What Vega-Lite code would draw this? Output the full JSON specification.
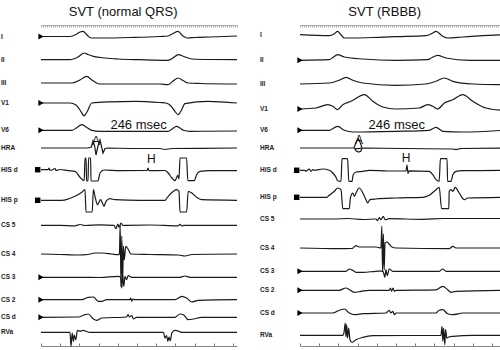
{
"$schema":"https://vega.github.io/schema/vega-lite/v6.json",
"background":"white",
"padding":{"left":1,"top":5,"right":0,"bottom":0},
"spacing":20,
"config":{
 "view":{"stroke":null},
 "title":{"fontSize":13,"font":"Liberation Sans","fontWeight":"normal","color":"#111","anchor":"middle","frame":"bounds","offset":6},
 "line":{"color":"#1a1a1a","strokeWidth":1.2,"interpolate":"monotone"},
 "text":{"align":"left","baseline":"middle","dx":-40,"fontSize":6.5,"fontWeight":"bold","font":"Liberation Sans Narrow, Liberation Sans","color":"#222"},
 "point":{"filled":true,"color":"#000","opacity":1,"size":36,"xOffset":-2.5,"shape":"triangle-right"},
 "axis":{"grid":false,"labels":false,"minExtent":0}
},
"datasets":{
"L":[
{"ch":"I","t":0,"v":0},{"ch":"I","t":72.5,"v":0},{"ch":"I","t":87.5,"v":2},{"ch":"I","t":97.5,"v":4.5},{"ch":"I","t":105,"v":5.2},{"ch":"I","t":115,"v":1.5},{"ch":"I","t":125,"v":-1.5},{"ch":"I","t":147.5,"v":-1.5},{"ch":"I","t":222.5,"v":-1},{"ch":"I","t":297.5,"v":0},{"ch":"I","t":317.5,"v":0.5},{"ch":"I","t":330,"v":3},{"ch":"I","t":342.5,"v":5.2},{"ch":"I","t":355,"v":0.5},{"ch":"I","t":365,"v":-1.5},{"ch":"I","t":385,"v":-1},{"ch":"I","t":422.5,"v":-0.5},{"ch":"I","t":490,"v":0.5},
{"ch":"II","t":0,"v":0},{"ch":"II","t":72.5,"v":0},{"ch":"II","t":92.5,"v":2.7},{"ch":"II","t":108,"v":6.7},{"ch":"II","t":117.5,"v":5.2},{"ch":"II","t":131,"v":3.4},{"ch":"II","t":160,"v":1.7},{"ch":"II","t":192.5,"v":0.7},{"ch":"II","t":247.5,"v":0},{"ch":"II","t":318,"v":-0.6},{"ch":"II","t":330,"v":1.7},{"ch":"II","t":343,"v":5},{"ch":"II","t":357.5,"v":3.2},{"ch":"II","t":377,"v":0.7},{"ch":"II","t":422.5,"v":0.2},{"ch":"II","t":490,"v":0},
{"ch":"III","t":0,"v":0},{"ch":"III","t":77.5,"v":0},{"ch":"III","t":97.5,"v":3},{"ch":"III","t":114,"v":6.7},{"ch":"III","t":127.5,"v":3},{"ch":"III","t":139,"v":0},{"ch":"III","t":147.5,"v":-1},{"ch":"III","t":222.5,"v":-1},{"ch":"III","t":297.5,"v":-1},{"ch":"III","t":317.5,"v":-1.7},{"ch":"III","t":330,"v":2},{"ch":"III","t":343,"v":5},{"ch":"III","t":355,"v":2.5},{"ch":"III","t":367.5,"v":0},{"ch":"III","t":397.5,"v":-0.5},{"ch":"III","t":490,"v":-1},
{"ch":"V1","t":0,"v":0},{"ch":"V1","t":72.5,"v":0},{"ch":"V1","t":87.5,"v":-2},{"ch":"V1","t":97.5,"v":-7},{"ch":"V1","t":108,"v":-12.7},{"ch":"V1","t":115,"v":-9},{"ch":"V1","t":127,"v":0},{"ch":"V1","t":172.5,"v":1.2},{"ch":"V1","t":235,"v":1.7},{"ch":"V1","t":297.5,"v":0.5},{"ch":"V1","t":312.5,"v":0},{"ch":"V1","t":325,"v":-3},{"ch":"V1","t":332.5,"v":-7},{"ch":"V1","t":343,"v":-11.7},{"ch":"V1","t":350,"v":-8},{"ch":"V1","t":360,"v":-0.7},{"ch":"V1","t":417.5,"v":1.7},{"ch":"V1","t":490,"v":0},
{"ch":"V6","t":0,"v":0},{"ch":"V6","t":77.5,"v":0},{"ch":"V6","t":90,"v":2.8},{"ch":"V6","t":102,"v":5.6},{"ch":"V6","t":112.5,"v":3.3},{"ch":"V6","t":127,"v":0},{"ch":"V6","t":147.5,"v":-1},{"ch":"V6","t":318,"v":-1},{"ch":"V6","t":327.5,"v":1.3},{"ch":"V6","t":339,"v":4},{"ch":"V6","t":347.5,"v":2.3},{"ch":"V6","t":356,"v":0},{"ch":"V6","t":372.5,"v":-1},{"ch":"V6","t":490,"v":-0.7},
{"ch":"HRA","t":0,"v":0},{"ch":"HRA","t":72.5,"v":0},{"ch":"HRA","t":117.5,"v":0},{"ch":"HRA","t":126,"v":1},{"ch":"HRA","t":130,"v":7},{"ch":"HRA","t":134,"v":2},{"ch":"HRA","t":137.5,"v":-7},{"ch":"HRA","t":142.5,"v":2},{"ch":"HRA","t":147.5,"v":8},{"ch":"HRA","t":151,"v":2},{"ch":"HRA","t":155,"v":-5},{"ch":"HRA","t":160,"v":-0.5},{"ch":"HRA","t":167.5,"v":0},{"ch":"HRA","t":222.5,"v":-0.5},{"ch":"HRA","t":297.5,"v":-0.5},{"ch":"HRA","t":310,"v":-1.5},{"ch":"HRA","t":327.5,"v":-0.5},{"ch":"HRA","t":397.5,"v":-0.3},{"ch":"HRA","t":490,"v":0},
{"ch":"HIS d","t":0,"v":0},{"ch":"HIS d","t":17.5,"v":0},{"ch":"HIS d","t":20,"v":1.7},{"ch":"HIS d","t":22.5,"v":-0.8},{"ch":"HIS d","t":30,"v":0.2},{"ch":"HIS d","t":35,"v":1.2},{"ch":"HIS d","t":37.5,"v":-0.8},{"ch":"HIS d","t":47.5,"v":0.2},{"ch":"HIS d","t":68,"v":-1},{"ch":"HIS d","t":85,"v":-1.6},{"ch":"HIS d","t":97.5,"v":-7.6},{"ch":"HIS d","t":108,"v":-11},{"ch":"HIS d","t":110,"v":11.7},{"ch":"HIS d","t":112.5,"v":11.7},{"ch":"HIS d","t":114,"v":-11.3},{"ch":"HIS d","t":117.5,"v":-11.3},{"ch":"HIS d","t":119,"v":11.7},{"ch":"HIS d","t":124,"v":11.7},{"ch":"HIS d","t":125,"v":-11.3},{"ch":"HIS d","t":142.5,"v":-11.3},{"ch":"HIS d","t":147.5,"v":-3.3},{"ch":"HIS d","t":157.5,"v":-0.3},{"ch":"HIS d","t":197.5,"v":-1},{"ch":"HIS d","t":265,"v":-0.8},{"ch":"HIS d","t":267.5,"v":1.7},{"ch":"HIS d","t":270,"v":-1},{"ch":"HIS d","t":310,"v":-0.8},{"ch":"HIS d","t":318,"v":-3.3},{"ch":"HIS d","t":327,"v":-8.3},{"ch":"HIS d","t":335,"v":-11},{"ch":"HIS d","t":342,"v":-5.6},{"ch":"HIS d","t":345,"v":-9.3},{"ch":"HIS d","t":347.5,"v":11.7},{"ch":"HIS d","t":364,"v":11.7},{"ch":"HIS d","t":367,"v":-11},{"ch":"HIS d","t":383,"v":-11},{"ch":"HIS d","t":389,"v":-5},{"ch":"HIS d","t":397.5,"v":-1.6},{"ch":"HIS d","t":422.5,"v":-1},{"ch":"HIS d","t":490,"v":-1},
{"ch":"HIS p","t":0,"v":0},{"ch":"HIS p","t":52,"v":0},{"ch":"HIS p","t":68,"v":1.3},{"ch":"HIS p","t":85,"v":4},{"ch":"HIS p","t":102,"v":8},{"ch":"HIS p","t":110,"v":10.6},{"ch":"HIS p","t":112.5,"v":-11.7},{"ch":"HIS p","t":128,"v":-11.7},{"ch":"HIS p","t":131,"v":10.6},{"ch":"HIS p","t":135,"v":4},{"ch":"HIS p","t":141,"v":-4.4},{"ch":"HIS p","t":149,"v":0.6},{"ch":"HIS p","t":153.5,"v":-2.7},{"ch":"HIS p","t":157.5,"v":-6},{"ch":"HIS p","t":162.5,"v":-1},{"ch":"HIS p","t":172.5,"v":1.6},{"ch":"HIS p","t":185,"v":0.6},{"ch":"HIS p","t":247.5,"v":0},{"ch":"HIS p","t":310,"v":0},{"ch":"HIS p","t":318,"v":4},{"ch":"HIS p","t":331,"v":9},{"ch":"HIS p","t":339,"v":10.6},{"ch":"HIS p","t":345,"v":9},{"ch":"HIS p","t":347.5,"v":-11.7},{"ch":"HIS p","t":364,"v":-11.7},{"ch":"HIS p","t":368,"v":9},{"ch":"HIS p","t":377,"v":7.3},{"ch":"HIS p","t":389,"v":3},{"ch":"HIS p","t":402,"v":0.6},{"ch":"HIS p","t":490,"v":0},
{"ch":"CS 5","t":0,"v":0},{"ch":"CS 5","t":47.5,"v":0},{"ch":"CS 5","t":85,"v":-0.5},{"ch":"CS 5","t":97.5,"v":0.8},{"ch":"CS 5","t":110,"v":-0.2},{"ch":"CS 5","t":147.5,"v":0.5},{"ch":"CS 5","t":182.5,"v":0},{"ch":"CS 5","t":187.5,"v":-3.4},{"ch":"CS 5","t":192,"v":1.3},{"ch":"CS 5","t":195,"v":-2},{"ch":"CS 5","t":200,"v":2.3},{"ch":"CS 5","t":205,"v":-0.2},{"ch":"CS 5","t":214,"v":0},{"ch":"CS 5","t":272.5,"v":0.3},{"ch":"CS 5","t":342.5,"v":-0.5},{"ch":"CS 5","t":347.5,"v":1},{"ch":"CS 5","t":352.5,"v":-0.7},{"ch":"CS 5","t":357.5,"v":0},{"ch":"CS 5","t":490,"v":0},
{"ch":"CS 4","t":0,"v":0},{"ch":"CS 4","t":47.5,"v":-0.5},{"ch":"CS 4","t":93,"v":-1},{"ch":"CS 4","t":117.5,"v":-0.5},{"ch":"CS 4","t":135,"v":1},{"ch":"CS 4","t":152,"v":1},{"ch":"CS 4","t":177,"v":0},{"ch":"CS 4","t":193,"v":-0.7},{"ch":"CS 4","t":196,"v":0},{"ch":"CS 4","t":198,"v":29},{"ch":"CS 4","t":200,"v":-33},{"ch":"CS 4","t":202,"v":18},{"ch":"CS 4","t":204,"v":-28},{"ch":"CS 4","t":206,"v":8},{"ch":"CS 4","t":208,"v":-6},{"ch":"CS 4","t":212,"v":7.7},{"ch":"CS 4","t":217.5,"v":5},{"ch":"CS 4","t":225,"v":0},{"ch":"CS 4","t":272.5,"v":-0.5},{"ch":"CS 4","t":342.5,"v":-1},{"ch":"CS 4","t":360,"v":-2},{"ch":"CS 4","t":377.5,"v":-0.5},{"ch":"CS 4","t":490,"v":0},
{"ch":"CS 3","t":0,"v":0},{"ch":"CS 3","t":97.5,"v":0},{"ch":"CS 3","t":147.5,"v":-0.2},{"ch":"CS 3","t":193,"v":1},{"ch":"CS 3","t":199,"v":0.3},{"ch":"CS 3","t":202,"v":-10.7},{"ch":"CS 3","t":204,"v":2.3},{"ch":"CS 3","t":207,"v":-9},{"ch":"CS 3","t":210,"v":1},{"ch":"CS 3","t":214,"v":-2.4},{"ch":"CS 3","t":218,"v":1.6},{"ch":"CS 3","t":227,"v":0},{"ch":"CS 3","t":347.5,"v":0},{"ch":"CS 3","t":360,"v":1.3},{"ch":"CS 3","t":372.5,"v":0},{"ch":"CS 3","t":490,"v":0},
{"ch":"CS 2","t":0,"v":0},{"ch":"CS 2","t":102,"v":0},{"ch":"CS 2","t":118,"v":2.4},{"ch":"CS 2","t":131,"v":2.7},{"ch":"CS 2","t":143,"v":-1.6},{"ch":"CS 2","t":152,"v":-1.6},{"ch":"CS 2","t":164,"v":0},{"ch":"CS 2","t":222.5,"v":0},{"ch":"CS 2","t":224,"v":1.7},{"ch":"CS 2","t":227,"v":-1.6},{"ch":"CS 2","t":229,"v":0.7},{"ch":"CS 2","t":232.5,"v":0},{"ch":"CS 2","t":335,"v":0},{"ch":"CS 2","t":352,"v":3.4},{"ch":"CS 2","t":364,"v":1.7},{"ch":"CS 2","t":377,"v":-2.3},{"ch":"CS 2","t":393,"v":-0.6},{"ch":"CS 2","t":490,"v":0},
{"ch":"CS d","t":0,"v":0},{"ch":"CS d","t":93,"v":0.3},{"ch":"CS d","t":110,"v":2.6},{"ch":"CS d","t":118,"v":3.3},{"ch":"CS d","t":131,"v":-1.7},{"ch":"CS d","t":139,"v":-3},{"ch":"CS d","t":152,"v":-0.7},{"ch":"CS d","t":214,"v":0.3},{"ch":"CS d","t":218,"v":2.6},{"ch":"CS d","t":221,"v":0.3},{"ch":"CS d","t":227,"v":1.6},{"ch":"CS d","t":231,"v":-1.7},{"ch":"CS d","t":239,"v":0},{"ch":"CS d","t":335,"v":0},{"ch":"CS d","t":347.5,"v":3.3},{"ch":"CS d","t":356,"v":2.6},{"ch":"CS d","t":368,"v":-2.4},{"ch":"CS d","t":381,"v":-1.7},{"ch":"CS d","t":402,"v":0},{"ch":"CS d","t":490,"v":0},
{"ch":"RVa","t":0,"v":0},{"ch":"RVa","t":68,"v":0},{"ch":"RVa","t":72.5,"v":0},{"ch":"RVa","t":75,"v":-14},{"ch":"RVa","t":78,"v":-0.7},{"ch":"RVa","t":81,"v":-9},{"ch":"RVa","t":83,"v":-2.7},{"ch":"RVa","t":87,"v":-7.4},{"ch":"RVa","t":91,"v":2},{"ch":"RVa","t":97.5,"v":1},{"ch":"RVa","t":106,"v":2},{"ch":"RVa","t":114,"v":0.8},{"ch":"RVa","t":122.5,"v":0},{"ch":"RVa","t":306,"v":0},{"ch":"RVa","t":310,"v":-5.7},{"ch":"RVa","t":314,"v":-3.2},{"ch":"RVa","t":317,"v":-9},{"ch":"RVa","t":320,"v":-4.7},{"ch":"RVa","t":323,"v":-8.4},{"ch":"RVa","t":327,"v":-0.7},{"ch":"RVa","t":335,"v":2},{"ch":"RVa","t":343,"v":1.3},{"ch":"RVa","t":352,"v":0},{"ch":"RVa","t":490,"v":0}
],
"R":[
{"ch":"I","t":0,"v":0},{"ch":"I","t":73,"v":-1},{"ch":"I","t":86,"v":1},{"ch":"I","t":94,"v":3.4},{"ch":"I","t":102.5,"v":0},{"ch":"I","t":111,"v":-3.3},{"ch":"I","t":132,"v":-3.3},{"ch":"I","t":198,"v":-2.6},{"ch":"I","t":240,"v":-2},{"ch":"I","t":315,"v":-1},{"ch":"I","t":332,"v":1.7},{"ch":"I","t":340,"v":3.4},{"ch":"I","t":357,"v":-1.6},{"ch":"I","t":369,"v":-3.3},{"ch":"I","t":407,"v":-2.3},{"ch":"I","t":457,"v":-1},{"ch":"I","t":507.5,"v":0},
{"ch":"II","t":0,"v":0},{"ch":"II","t":73,"v":0.6},{"ch":"II","t":82.5,"v":2.8},{"ch":"II","t":94,"v":5.6},{"ch":"II","t":111,"v":3.3},{"ch":"II","t":157,"v":1.3},{"ch":"II","t":240,"v":0},{"ch":"II","t":319,"v":0.6},{"ch":"II","t":330,"v":2.8},{"ch":"II","t":344,"v":5},{"ch":"II","t":365,"v":2.3},{"ch":"II","t":423,"v":0},{"ch":"II","t":507.5,"v":0},
{"ch":"III","t":0,"v":0},{"ch":"III","t":73,"v":1},{"ch":"III","t":98,"v":3.7},{"ch":"III","t":115,"v":6.7},{"ch":"III","t":132,"v":3.7},{"ch":"III","t":157,"v":1},{"ch":"III","t":240,"v":-1.3},{"ch":"III","t":315,"v":0},{"ch":"III","t":340,"v":2.7},{"ch":"III","t":361,"v":6},{"ch":"III","t":382,"v":2.7},{"ch":"III","t":432,"v":0},{"ch":"III","t":507.5,"v":-0.7},
{"ch":"V1","t":0,"v":0},{"ch":"V1","t":40,"v":1},{"ch":"V1","t":69,"v":4.3},{"ch":"V1","t":82,"v":2.7},{"ch":"V1","t":94,"v":-0.7},{"ch":"V1","t":107,"v":4.3},{"ch":"V1","t":127.5,"v":7.7},{"ch":"V1","t":161,"v":14.3},{"ch":"V1","t":182,"v":7.7},{"ch":"V1","t":207,"v":2},{"ch":"V1","t":240,"v":0},{"ch":"V1","t":298,"v":1},{"ch":"V1","t":319,"v":4.3},{"ch":"V1","t":332,"v":2.7},{"ch":"V1","t":344,"v":0},{"ch":"V1","t":361,"v":6},{"ch":"V1","t":382,"v":9.3},{"ch":"V1","t":407,"v":14.3},{"ch":"V1","t":432,"v":7.7},{"ch":"V1","t":465,"v":1},{"ch":"V1","t":507.5,"v":-1.3},
{"ch":"V6","t":0,"v":0},{"ch":"V6","t":73,"v":0},{"ch":"V6","t":94,"v":4},{"ch":"V6","t":111,"v":0},{"ch":"V6","t":132,"v":-1.7},{"ch":"V6","t":240,"v":-1},{"ch":"V6","t":323,"v":0},{"ch":"V6","t":340,"v":3},{"ch":"V6","t":357,"v":-1},{"ch":"V6","t":407,"v":-1.7},{"ch":"V6","t":507.5,"v":0},
{"ch":"HRA","t":0,"v":0},{"ch":"HRA","t":107.5,"v":0},{"ch":"HRA","t":135,"v":0},{"ch":"HRA","t":140,"v":5.5},{"ch":"HRA","t":146,"v":9.3},{"ch":"HRA","t":151,"v":5},{"ch":"HRA","t":155,"v":0},{"ch":"HRA","t":152,"v":-3.3},{"ch":"HRA","t":146,"v":-4},{"ch":"HRA","t":140,"v":-2.7},{"ch":"HRA","t":137,"v":-0.8},{"ch":"HRA","t":162.5,"v":0},{"ch":"HRA","t":257.5,"v":-0.5},{"ch":"HRA","t":382.5,"v":-1},{"ch":"HRA","t":390,"v":-1.7},{"ch":"HRA","t":402.5,"v":-0.5},{"ch":"HRA","t":507.5,"v":0},
{"ch":"HIS d","t":0,"v":0},{"ch":"HIS d","t":12.5,"v":0},{"ch":"HIS d","t":15,"v":-1},{"ch":"HIS d","t":23,"v":1.3},{"ch":"HIS d","t":27.5,"v":-1},{"ch":"HIS d","t":32,"v":0.6},{"ch":"HIS d","t":36,"v":0},{"ch":"HIS d","t":57,"v":1.3},{"ch":"HIS d","t":73,"v":0},{"ch":"HIS d","t":82,"v":-2.7},{"ch":"HIS d","t":90,"v":-7},{"ch":"HIS d","t":94,"v":-10.4},{"ch":"HIS d","t":102.5,"v":-11},{"ch":"HIS d","t":105,"v":11.6},{"ch":"HIS d","t":119,"v":11.6},{"ch":"HIS d","t":122,"v":-11},{"ch":"HIS d","t":130,"v":-11},{"ch":"HIS d","t":133,"v":-4.4},{"ch":"HIS d","t":140,"v":-1.7},{"ch":"HIS d","t":157,"v":-1},{"ch":"HIS d","t":173,"v":0},{"ch":"HIS d","t":220,"v":-0.7},{"ch":"HIS d","t":265,"v":-0.5},{"ch":"HIS d","t":267.5,"v":5.3},{"ch":"HIS d","t":270,"v":-3.2},{"ch":"HIS d","t":272.5,"v":-0.5},{"ch":"HIS d","t":323,"v":-1},{"ch":"HIS d","t":332,"v":-4.4},{"ch":"HIS d","t":340,"v":-9.4},{"ch":"HIS d","t":348,"v":-11},{"ch":"HIS d","t":351,"v":11.6},{"ch":"HIS d","t":367.5,"v":11.6},{"ch":"HIS d","t":369,"v":-11},{"ch":"HIS d","t":377.5,"v":-11},{"ch":"HIS d","t":382,"v":-4.4},{"ch":"HIS d","t":390,"v":-1},{"ch":"HIS d","t":407,"v":-0.4},{"ch":"HIS d","t":507.5,"v":0},
{"ch":"HIS p","t":0,"v":0},{"ch":"HIS p","t":67,"v":0},{"ch":"HIS p","t":73,"v":2},{"ch":"HIS p","t":86,"v":6},{"ch":"HIS p","t":94,"v":9.3},{"ch":"HIS p","t":102.5,"v":7.6},{"ch":"HIS p","t":107,"v":-11.4},{"ch":"HIS p","t":123,"v":-11.4},{"ch":"HIS p","t":126,"v":-0.7},{"ch":"HIS p","t":132,"v":4.3},{"ch":"HIS p","t":136,"v":1},{"ch":"HIS p","t":140,"v":4.3},{"ch":"HIS p","t":148,"v":9.3},{"ch":"HIS p","t":157,"v":4.3},{"ch":"HIS p","t":165,"v":-2.4},{"ch":"HIS p","t":169,"v":-5.7},{"ch":"HIS p","t":175,"v":-2.4},{"ch":"HIS p","t":190,"v":-1.7},{"ch":"HIS p","t":240,"v":-0.7},{"ch":"HIS p","t":307,"v":0},{"ch":"HIS p","t":323,"v":2},{"ch":"HIS p","t":340,"v":7.6},{"ch":"HIS p","t":348,"v":10},{"ch":"HIS p","t":354,"v":-11.4},{"ch":"HIS p","t":372,"v":-11.4},{"ch":"HIS p","t":373,"v":6},{"ch":"HIS p","t":377.5,"v":7.6},{"ch":"HIS p","t":382.5,"v":6},{"ch":"HIS p","t":388,"v":10},{"ch":"HIS p","t":398,"v":4.3},{"ch":"HIS p","t":411,"v":-2.4},{"ch":"HIS p","t":419,"v":-0.7},{"ch":"HIS p","t":507.5,"v":0},
{"ch":"CS 5","t":0,"v":0},{"ch":"CS 5","t":82.5,"v":0},{"ch":"CS 5","t":120,"v":0.5},{"ch":"CS 5","t":157.5,"v":-0.5},{"ch":"CS 5","t":190,"v":0},{"ch":"CS 5","t":194,"v":-1.7},{"ch":"CS 5","t":198,"v":1.5},{"ch":"CS 5","t":202.5,"v":-0.7},{"ch":"CS 5","t":208,"v":2.7},{"ch":"CS 5","t":213,"v":-0.7},{"ch":"CS 5","t":223,"v":0.3},{"ch":"CS 5","t":307.5,"v":-0.3},{"ch":"CS 5","t":357.5,"v":0.5},{"ch":"CS 5","t":507.5,"v":0.5},
{"ch":"CS 4","t":0,"v":0},{"ch":"CS 4","t":98,"v":-0.7},{"ch":"CS 4","t":130,"v":-0.5},{"ch":"CS 4","t":140,"v":2.3},{"ch":"CS 4","t":148,"v":1},{"ch":"CS 4","t":190,"v":1},{"ch":"CS 4","t":202.5,"v":0},{"ch":"CS 4","t":204.5,"v":22},{"ch":"CS 4","t":206.5,"v":-24},{"ch":"CS 4","t":208.5,"v":14},{"ch":"CS 4","t":210.5,"v":-22},{"ch":"CS 4","t":212.5,"v":5},{"ch":"CS 4","t":217.5,"v":6},{"ch":"CS 4","t":222.5,"v":4},{"ch":"CS 4","t":230,"v":1},{"ch":"CS 4","t":240,"v":0},{"ch":"CS 4","t":373,"v":-0.7},{"ch":"CS 4","t":382,"v":1.7},{"ch":"CS 4","t":390,"v":0},{"ch":"CS 4","t":507.5,"v":0},
{"ch":"CS 3","t":0,"v":0},{"ch":"CS 3","t":115,"v":0},{"ch":"CS 3","t":123,"v":2.3},{"ch":"CS 3","t":132.5,"v":0.8},{"ch":"CS 3","t":140,"v":-1},{"ch":"CS 3","t":157.5,"v":-1},{"ch":"CS 3","t":190,"v":0},{"ch":"CS 3","t":207.5,"v":0.3},{"ch":"CS 3","t":212,"v":-6},{"ch":"CS 3","t":215,"v":1.6},{"ch":"CS 3","t":218,"v":-4.4},{"ch":"CS 3","t":223,"v":2.3},{"ch":"CS 3","t":232,"v":0},{"ch":"CS 3","t":348,"v":0},{"ch":"CS 3","t":357,"v":2.3},{"ch":"CS 3","t":365,"v":0},{"ch":"CS 3","t":507.5,"v":0},
{"ch":"CS 2","t":0,"v":0},{"ch":"CS 2","t":98,"v":0},{"ch":"CS 2","t":115,"v":2.3},{"ch":"CS 2","t":123,"v":0.8},{"ch":"CS 2","t":136,"v":-2},{"ch":"CS 2","t":152.5,"v":-1},{"ch":"CS 2","t":173,"v":0},{"ch":"CS 2","t":223,"v":0},{"ch":"CS 2","t":226,"v":2.3},{"ch":"CS 2","t":229,"v":-1},{"ch":"CS 2","t":232.5,"v":2.3},{"ch":"CS 2","t":236,"v":-1},{"ch":"CS 2","t":240,"v":0},{"ch":"CS 2","t":340,"v":0.5},{"ch":"CS 2","t":357,"v":4},{"ch":"CS 2","t":369,"v":0.6},{"ch":"CS 2","t":377.5,"v":-2},{"ch":"CS 2","t":390,"v":-1},{"ch":"CS 2","t":507.5,"v":0},
{"ch":"CS d","t":0,"v":0},{"ch":"CS d","t":82,"v":0},{"ch":"CS d","t":98,"v":2.7},{"ch":"CS d","t":111,"v":4},{"ch":"CS d","t":123,"v":0},{"ch":"CS d","t":136,"v":-1.7},{"ch":"CS d","t":157.5,"v":-0.7},{"ch":"CS d","t":215,"v":0},{"ch":"CS d","t":223,"v":2.7},{"ch":"CS d","t":227.5,"v":0},{"ch":"CS d","t":232,"v":1.7},{"ch":"CS d","t":236,"v":-1.7},{"ch":"CS d","t":240,"v":0},{"ch":"CS d","t":340,"v":0},{"ch":"CS d","t":348,"v":2.7},{"ch":"CS d","t":357,"v":3.3},{"ch":"CS d","t":369,"v":-0.7},{"ch":"CS d","t":382,"v":-1.7},{"ch":"CS d","t":407.5,"v":0},{"ch":"CS d","t":507.5,"v":0},
{"ch":"RVa","t":0,"v":0},{"ch":"RVa","t":107,"v":0},{"ch":"RVa","t":110.5,"v":4},{"ch":"RVa","t":113,"v":12.3},{"ch":"RVa","t":115,"v":-1.7},{"ch":"RVa","t":116.5,"v":10.6},{"ch":"RVa","t":119,"v":-2.7},{"ch":"RVa","t":121.5,"v":7.3},{"ch":"RVa","t":125,"v":-4.4},{"ch":"RVa","t":130,"v":-7},{"ch":"RVa","t":140,"v":-4.4},{"ch":"RVa","t":157,"v":-2},{"ch":"RVa","t":182,"v":-0.4},{"ch":"RVa","t":352.5,"v":0},{"ch":"RVa","t":355,"v":9},{"ch":"RVa","t":357,"v":-6},{"ch":"RVa","t":359,"v":7.3},{"ch":"RVa","t":362,"v":-9.4},{"ch":"RVa","t":364,"v":5.6},{"ch":"RVa","t":367,"v":-2.7},{"ch":"RVa","t":372,"v":-1.7},{"ch":"RVa","t":382,"v":-1},{"ch":"RVa","t":432.5,"v":0},{"ch":"RVa","t":507.5,"v":0}
]
},
"hconcat":[
{
 "title":{"text":"SVT (normal QRS)","dx":3},
 "width":196,"height":321,
 "data":{"name":"L"},
 "encoding":{"x":{"field":"t","type":"quantitative","scale":{"domain":[0,490],"nice":false,"zero":false},"axis":null}},
 "resolve":{"scale":{"y":"independent"},"axis":{"x":"independent"}},
 "layer":[
  {"data":{"values":[{}]},"mark":{"type":"rule","color":"#9a9a9a","strokeWidth":1},"encoding":{"x":{"datum":0,"type":"quantitative","scale":{"domain":[0,490],"nice":false,"zero":false},"axis":{"orient":"bottom","values":[0,48,96,144,192,240,288,336,384,432,480],"title":null,"domainColor":"#888","tickColor":"#777","tickSize":-3}}}},
  {"data":{"values":[{}]},"mark":{"type":"rule","opacity":0},"encoding":{"x":{"datum":0,"type":"quantitative","scale":{"domain":[0,490],"nice":false,"zero":false},"axis":{"orient":"top","tickCount":100,"title":null,"domainColor":"#aaa","tickColor":"#aaa","tickSize":-2}}}},
  {"transform":[{"filter":"datum.ch=='I'"}],"encoding":{"y":{"field":"v","type":"quantitative","axis":null,"scale":{"domain":[-309.5,11.5],"nice":false,"zero":false}}},"layer":[{"mark":"line","encoding":{}},{"transform":[{"filter":"datum.t==0"}],"mark":"text","encoding":{"text":{"field":"ch"}}},{"transform":[{"filter":"datum.t==0"}],"mark":"point"}]},
  {"transform":[{"filter":"datum.ch=='II'"}],"encoding":{"y":{"field":"v","type":"quantitative","axis":null,"scale":{"domain":[-286.3,34.7],"nice":false,"zero":false}}},"layer":[{"mark":"line","encoding":{}},{"transform":[{"filter":"datum.t==0"}],"mark":"text","encoding":{"text":{"field":"ch"}}}]},
  {"transform":[{"filter":"datum.ch=='III'"}],"encoding":{"y":{"field":"v","type":"quantitative","axis":null,"scale":{"domain":[-263,58],"nice":false,"zero":false}}},"layer":[{"mark":"line","encoding":{}},{"transform":[{"filter":"datum.t==0"}],"mark":"text","encoding":{"text":{"field":"ch"}}}]},
  {"transform":[{"filter":"datum.ch=='V1'"}],"encoding":{"y":{"field":"v","type":"quantitative","axis":null,"scale":{"domain":[-243,78],"nice":false,"zero":false}}},"layer":[{"mark":"line","encoding":{}},{"transform":[{"filter":"datum.t==0"}],"mark":"text","encoding":{"text":{"field":"ch"}}},{"transform":[{"filter":"datum.t==0"}],"mark":"point"}]},
  {"transform":[{"filter":"datum.ch=='V6'"}],"encoding":{"y":{"field":"v","type":"quantitative","axis":null,"scale":{"domain":[-215.7,105.3],"nice":false,"zero":false}}},"layer":[{"mark":"line","encoding":{}},{"transform":[{"filter":"datum.t==0"}],"mark":"text","encoding":{"text":{"field":"ch"}}},{"transform":[{"filter":"datum.t==0"}],"mark":"point"},
    {"data":{"values":[{"ch":"V6","t":244,"v":5,"label":"246 msec"}]},"mark":{"type":"text","align":"center","dx":0,"fontSize":13,"fontWeight":"normal","font":"Liberation Sans","color":"#111"},"encoding":{"text":{"field":"label"}}}]},
  {"transform":[{"filter":"datum.ch=='HRA'"}],"encoding":{"y":{"field":"v","type":"quantitative","axis":null,"scale":{"domain":[-198,123],"nice":false,"zero":false}}},"layer":[{"mark":{"type":"line","interpolate":"linear"},"encoding":{"order":{"value":null}}},{"transform":[{"filter":"datum.t==0"}],"mark":"text","encoding":{"text":{"field":"ch"}}},
    {"data":{"values":[{"ch":"HRA","t":137.5,"v":7,"label":"A"}]},"mark":{"type":"text","align":"center","dx":0,"fontSize":12,"fontWeight":"normal","font":"Liberation Sans","color":"#111"},"encoding":{"text":{"field":"label"}}}]},
  {"transform":[{"filter":"datum.ch=='HIS d'"}],"encoding":{"y":{"field":"v","type":"quantitative","axis":null,"scale":{"domain":[-176.3,144.7],"nice":false,"zero":false}}},"layer":[{"mark":"line","encoding":{}},{"transform":[{"filter":"datum.t==0"}],"mark":"text","encoding":{"text":{"field":"ch"}}},{"transform":[{"filter":"datum.t==0"}],"mark":{"type":"point","shape":"square","size":30,"xOffset":-3.3}},
    {"data":{"values":[{"ch":"HIS d","t":276,"v":11.2,"label":"H"}]},"mark":{"type":"text","align":"center","dx":0,"fontSize":12,"fontWeight":"normal","font":"Liberation Sans","color":"#111"},"encoding":{"text":{"field":"label"}}}]},
  {"transform":[{"filter":"datum.ch=='HIS p'"}],"encoding":{"y":{"field":"v","type":"quantitative","axis":null,"scale":{"domain":[-145.7,175.3],"nice":false,"zero":false}}},"layer":[{"mark":"line","encoding":{}},{"transform":[{"filter":"datum.t==0"}],"mark":"text","encoding":{"text":{"field":"ch"}}},{"transform":[{"filter":"datum.t==0"}],"mark":{"type":"point","shape":"square","size":30,"xOffset":-3.3}}]},
  {"transform":[{"filter":"datum.ch=='CS 5'"}],"encoding":{"y":{"field":"v","type":"quantitative","axis":null,"scale":{"domain":[-120.7,200.3],"nice":false,"zero":false}}},"layer":[{"mark":"line","encoding":{}},{"transform":[{"filter":"datum.t==0"}],"mark":"text","encoding":{"text":{"field":"ch"}}}]},
  {"transform":[{"filter":"datum.ch=='CS 4'"}],"encoding":{"y":{"field":"v","type":"quantitative","axis":null,"scale":{"domain":[-92,229],"nice":false,"zero":false}}},"layer":[{"mark":"line","encoding":{}},{"transform":[{"filter":"datum.t==0"}],"mark":"text","encoding":{"text":{"field":"ch"}}}]},
  {"transform":[{"filter":"datum.ch=='CS 3'"}],"encoding":{"y":{"field":"v","type":"quantitative","axis":null,"scale":{"domain":[-68.7,252.3],"nice":false,"zero":false}}},"layer":[{"mark":"line","encoding":{}},{"transform":[{"filter":"datum.t==0"}],"mark":"text","encoding":{"text":{"field":"ch"}}},{"transform":[{"filter":"datum.t==0"}],"mark":"point"}]},
  {"transform":[{"filter":"datum.ch=='CS 2'"}],"encoding":{"y":{"field":"v","type":"quantitative","axis":null,"scale":{"domain":[-46.3,274.7],"nice":false,"zero":false}}},"layer":[{"mark":"line","encoding":{}},{"transform":[{"filter":"datum.t==0"}],"mark":"text","encoding":{"text":{"field":"ch"}}},{"transform":[{"filter":"datum.t==0"}],"mark":"point"}]},
  {"transform":[{"filter":"datum.ch=='CS d'"}],"encoding":{"y":{"field":"v","type":"quantitative","axis":null,"scale":{"domain":[-28.7,292.3],"nice":false,"zero":false}}},"layer":[{"mark":"line","encoding":{}},{"transform":[{"filter":"datum.t==0"}],"mark":"text","encoding":{"text":{"field":"ch"}}},{"transform":[{"filter":"datum.t==0"}],"mark":"point"}]},
  {"transform":[{"filter":"datum.ch=='RVa'"}],"encoding":{"y":{"field":"v","type":"quantitative","axis":null,"scale":{"domain":[-13.7,307.3],"nice":false,"zero":false}}},"layer":[{"mark":"line","encoding":{}},{"transform":[{"filter":"datum.t==0"}],"mark":"text","encoding":{"text":{"field":"ch"}}}]}
 ]
},
{
 "title":{"text":"SVT (RBBB)","dx":2},
 "width":203,"height":321,
 "data":{"name":"R"},
 "encoding":{"x":{"field":"t","type":"quantitative","scale":{"domain":[0,507.5],"nice":false,"zero":false},"axis":null}},
 "resolve":{"scale":{"y":"independent"},"axis":{"x":"independent"}},
 "layer":[
  {"data":{"values":[{}]},"mark":{"type":"rule","color":"#9a9a9a","strokeWidth":1},"encoding":{"x":{"datum":0,"type":"quantitative","scale":{"domain":[0,507.5],"nice":false,"zero":false},"axis":{"orient":"bottom","values":[0,48,96,144,192,240,288,336,384,432,480],"title":null,"domainColor":"#888","tickColor":"#777","tickSize":-3}}}},
  {"data":{"values":[{}]},"mark":{"type":"rule","opacity":0},"encoding":{"x":{"datum":0,"type":"quantitative","scale":{"domain":[0,507.5],"nice":false,"zero":false},"axis":{"orient":"top","tickCount":100,"title":null,"domainColor":"#aaa","tickColor":"#aaa","tickSize":-2}}}},
  {"transform":[{"filter":"datum.ch=='I'"}],"encoding":{"y":{"field":"v","type":"quantitative","axis":null,"scale":{"domain":[-311.3,9.7],"nice":false,"zero":false}}},"layer":[{"mark":"line","encoding":{}},{"transform":[{"filter":"datum.t==0"}],"mark":"text","encoding":{"text":{"field":"ch"}}}]},
  {"transform":[{"filter":"datum.ch=='II'"}],"encoding":{"y":{"field":"v","type":"quantitative","axis":null,"scale":{"domain":[-285.7,35.3],"nice":false,"zero":false}}},"layer":[{"mark":"line","encoding":{}},{"transform":[{"filter":"datum.t==0"}],"mark":"text","encoding":{"text":{"field":"ch"}}},{"transform":[{"filter":"datum.t==0"}],"mark":"point"}]},
  {"transform":[{"filter":"datum.ch=='III'"}],"encoding":{"y":{"field":"v","type":"quantitative","axis":null,"scale":{"domain":[-262,59],"nice":false,"zero":false}}},"layer":[{"mark":"line","encoding":{}},{"transform":[{"filter":"datum.t==0"}],"mark":"text","encoding":{"text":{"field":"ch"}}}]},
  {"transform":[{"filter":"datum.ch=='V1'"}],"encoding":{"y":{"field":"v","type":"quantitative","axis":null,"scale":{"domain":[-237,84],"nice":false,"zero":false}}},"layer":[{"mark":"line","encoding":{}},{"transform":[{"filter":"datum.t==0"}],"mark":"text","encoding":{"text":{"field":"ch"}}},{"transform":[{"filter":"datum.t==0"}],"mark":"point"}]},
  {"transform":[{"filter":"datum.ch=='V6'"}],"encoding":{"y":{"field":"v","type":"quantitative","axis":null,"scale":{"domain":[-215.7,105.3],"nice":false,"zero":false}}},"layer":[{"mark":"line","encoding":{}},{"transform":[{"filter":"datum.t==0"}],"mark":"text","encoding":{"text":{"field":"ch"}}},{"transform":[{"filter":"datum.t==0"}],"mark":"point"},
    {"data":{"values":[{"ch":"V6","t":242,"v":5.3,"label":"246 msec"}]},"mark":{"type":"text","align":"center","dx":0,"fontSize":13,"fontWeight":"normal","font":"Liberation Sans","color":"#111"},"encoding":{"text":{"field":"label"}}}]},
  {"transform":[{"filter":"datum.ch=='HRA'"}],"encoding":{"y":{"field":"v","type":"quantitative","axis":null,"scale":{"domain":[-198,123],"nice":false,"zero":false}}},"layer":[{"mark":{"type":"line","interpolate":"linear"},"encoding":{"order":{"value":null}}},{"transform":[{"filter":"datum.t==0"}],"mark":"text","encoding":{"text":{"field":"ch"}}},
    {"data":{"values":[{"ch":"HRA","t":147.5,"v":8,"label":"A"}]},"mark":{"type":"text","align":"center","dx":0,"fontSize":12,"fontWeight":"normal","font":"Liberation Sans","color":"#111"},"encoding":{"text":{"field":"label"}}}]},
  {"transform":[{"filter":"datum.ch=='HIS d'"}],"encoding":{"y":{"field":"v","type":"quantitative","axis":null,"scale":{"domain":[-175.7,145.3],"nice":false,"zero":false}}},"layer":[{"mark":"line","encoding":{}},{"transform":[{"filter":"datum.t==0"}],"mark":"text","encoding":{"text":{"field":"ch"}}},{"transform":[{"filter":"datum.t==0"}],"mark":{"type":"point","shape":"square","size":30,"xOffset":-3.3}},
    {"data":{"values":[{"ch":"HIS d","t":265,"v":12.8,"label":"H"}]},"mark":{"type":"text","align":"center","dx":0,"fontSize":12,"fontWeight":"normal","font":"Liberation Sans","color":"#111"},"encoding":{"text":{"field":"label"}}}]},
  {"transform":[{"filter":"datum.ch=='HIS p'"}],"encoding":{"y":{"field":"v","type":"quantitative","axis":null,"scale":{"domain":[-148.7,172.3],"nice":false,"zero":false}}},"layer":[{"mark":"line","encoding":{}},{"transform":[{"filter":"datum.t==0"}],"mark":"text","encoding":{"text":{"field":"ch"}}},{"transform":[{"filter":"datum.t==0"}],"mark":{"type":"point","shape":"square","size":30,"xOffset":-3.3}}]},
  {"transform":[{"filter":"datum.ch=='CS 5'"}],"encoding":{"y":{"field":"v","type":"quantitative","axis":null,"scale":{"domain":[-127,194],"nice":false,"zero":false}}},"layer":[{"mark":"line","encoding":{}},{"transform":[{"filter":"datum.t==0"}],"mark":"text","encoding":{"text":{"field":"ch"}}}]},
  {"transform":[{"filter":"datum.ch=='CS 4'"}],"encoding":{"y":{"field":"v","type":"quantitative","axis":null,"scale":{"domain":[-98,223],"nice":false,"zero":false}}},"layer":[{"mark":"line","encoding":{}},{"transform":[{"filter":"datum.t==0"}],"mark":"text","encoding":{"text":{"field":"ch"}}}]},
  {"transform":[{"filter":"datum.ch=='CS 3'"}],"encoding":{"y":{"field":"v","type":"quantitative","axis":null,"scale":{"domain":[-74.7,246.3],"nice":false,"zero":false}}},"layer":[{"mark":"line","encoding":{}},{"transform":[{"filter":"datum.t==0"}],"mark":"text","encoding":{"text":{"field":"ch"}}},{"transform":[{"filter":"datum.t==0"}],"mark":"point"}]},
  {"transform":[{"filter":"datum.ch=='CS 2'"}],"encoding":{"y":{"field":"v","type":"quantitative","axis":null,"scale":{"domain":[-55.7,265.3],"nice":false,"zero":false}}},"layer":[{"mark":"line","encoding":{}},{"transform":[{"filter":"datum.t==0"}],"mark":"text","encoding":{"text":{"field":"ch"}}},{"transform":[{"filter":"datum.t==0"}],"mark":"point"}]},
  {"transform":[{"filter":"datum.ch=='CS d'"}],"encoding":{"y":{"field":"v","type":"quantitative","axis":null,"scale":{"domain":[-33,288],"nice":false,"zero":false}}},"layer":[{"mark":"line","encoding":{}},{"transform":[{"filter":"datum.t==0"}],"mark":"text","encoding":{"text":{"field":"ch"}}},{"transform":[{"filter":"datum.t==0"}],"mark":"point"}]},
  {"transform":[{"filter":"datum.ch=='RVa'"}],"encoding":{"y":{"field":"v","type":"quantitative","axis":null,"scale":{"domain":[-10.7,310.3],"nice":false,"zero":false}}},"layer":[{"mark":"line","encoding":{}},{"transform":[{"filter":"datum.t==0"}],"mark":"text","encoding":{"text":{"field":"ch"}}}]}
 ]
}
]
}
